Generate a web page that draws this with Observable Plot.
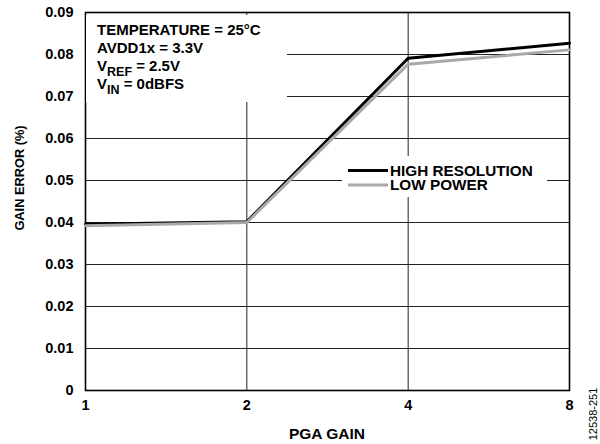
<!DOCTYPE html>
<html><head><meta charset="utf-8">
<script src="https://cdn.jsdelivr.net/npm/d3@7"></script>
<script src="https://cdn.jsdelivr.net/npm/@observablehq/plot@0.6"></script>
<style>html,body{margin:0;padding:0;background:#fff}#chart svg{display:block}</style>
</head><body><div id="chart"></div>
<script>
// ---- data ----
const gains = [1, 2, 4, 8];
const highResolution = [0.0396, 0.0402, 0.0791, 0.0827];
const lowPower = [0.0392, 0.0400, 0.0777, 0.0811];
const yTicks = [0, 0.01, 0.02, 0.03, 0.04, 0.05, 0.06, 0.07, 0.08, 0.09];
const seriesNames = ["HIGH RESOLUTION", "LOW POWER"];
const seriesColors = ["#000000", "#a9a9a9"];
const xLabel = "PGA GAIN";
const yLabel = "GAIN ERROR (%)";
const sideNote = "12538-251";
// annotation lines: [main, subscript, rest]
const annotationLines = [
  ["TEMPERATURE = 25°C", "", ""],
  ["AVDD1x = 3.3V", "", ""],
  ["V", "REF", " = 2.5V"],
  ["V", "IN", " = 0dBFS"]
];

const rows = [
  ...gains.map((g, i) => ({gain: g, value: highResolution[i], series: seriesNames[0]})),
  ...gains.map((g, i) => ({gain: g, value: lowPower[i], series: seriesNames[1]}))
];

const font = "'Liberation Sans', Arial, Helvetica, sans-serif";

const plot = Plot.plot({
  width: 600, height: 444,
  marginLeft: 85, marginRight: 31, marginTop: 12, marginBottom: 54,
  style: {fontFamily: font, fontSize: "14.5px", fontWeight: "bold", color: "#000", background: "#fff", overflow: "visible"},
  x: {type: "log", base: 2, domain: [1, 8], ticks: gains, tickFormat: d => String(d), tickSize: 0, tickPadding: 9, label: null},
  y: {domain: [0, 0.09], ticks: yTicks, tickFormat: d => d === 0 ? "0" : d.toFixed(2), tickSize: 0, tickPadding: 12, label: null},
  marks: [
    Plot.ruleX(gains, {stroke: "#222", strokeWidth: 1}),
    Plot.ruleY(yTicks, {stroke: "#222", strokeWidth: 1}),
    Plot.frame({stroke: "#000", strokeWidth: 1.6}),
    Plot.line(rows.filter(d => d.series === seriesNames[0]), {x: "gain", y: "value", stroke: seriesColors[0], strokeWidth: 3}),
    Plot.line(rows.filter(d => d.series === seriesNames[1]), {x: "gain", y: "value", stroke: seriesColors[1], strokeWidth: 3})
  ]
});
document.getElementById("chart").appendChild(plot);

const svg = d3.select(plot);
const xs = plot.scale("x"), ys = plot.scale("y");
const plotLeft = xs.range[0], plotRight = xs.range[1];
const plotTop = ys.range[1], plotBottom = ys.range[0];

// white backgrounds behind annotation and legend (drawn above grid, below lines)
const firstLine = svg.select("g[aria-label='line']").node();
function bgRect(x, y, w, h) {
  const r = document.createElementNS("http://www.w3.org/2000/svg", "rect");
  r.setAttribute("x", x); r.setAttribute("y", y);
  r.setAttribute("width", w); r.setAttribute("height", h);
  r.setAttribute("fill", "#fff");
  plot.insertBefore(r, firstLine);
}
bgRect(plotLeft + 1, plotTop + 3, 201, 87);
bgRect(342, 156, 205, 41);

// annotation
const ann = svg.append("g").attr("font-family", font).attr("font-weight", "bold")
  .attr("font-size", 15).attr("text-anchor", "start");
annotationLines.forEach((l, i) => {
  const t = ann.append("text").attr("x", plotLeft + 12).attr("y", plotTop + 23 + i * 18);
  t.append("tspan").text(l[0]);
  if (l[1]) {
    t.append("tspan").attr("dy", 4.5).attr("font-size", 12.5).text(l[1]);
    t.append("tspan").attr("dy", -4.5).text(l[2]);
  }
});

// legend
const leg = svg.append("g").attr("font-family", font).attr("font-weight", "bold")
  .attr("font-size", 15.3).attr("text-anchor", "start");
seriesNames.forEach((name, i) => {
  const y = 170.5 + i * 14.5;
  leg.append("line").attr("x1", 348).attr("x2", 388).attr("y1", y).attr("y2", y)
    .attr("stroke", seriesColors[i]).attr("stroke-width", 3);
  leg.append("text").attr("x", 390).attr("y", y + 5).text(name);
});

// axis titles
svg.append("text").attr("x", (plotLeft + plotRight) / 2).attr("y", 439)
  .attr("text-anchor", "middle").attr("font-family", font).attr("font-weight", "bold").attr("font-size", 15.5)
  .text(xLabel);
svg.append("text").attr("transform", `translate(20,178) rotate(-90)`)
  .attr("text-anchor", "middle").attr("dy", "0.35em").attr("font-family", font).attr("font-weight", "bold").attr("font-size", 12.8)
  .text(yLabel);
svg.append("text").attr("transform", `translate(593,414) rotate(-90)`)
  .attr("text-anchor", "middle").attr("dy", "0.35em").attr("font-family", font).attr("font-weight", "normal").attr("font-size", 11)
  .text(sideNote);
</script>
</body></html>
